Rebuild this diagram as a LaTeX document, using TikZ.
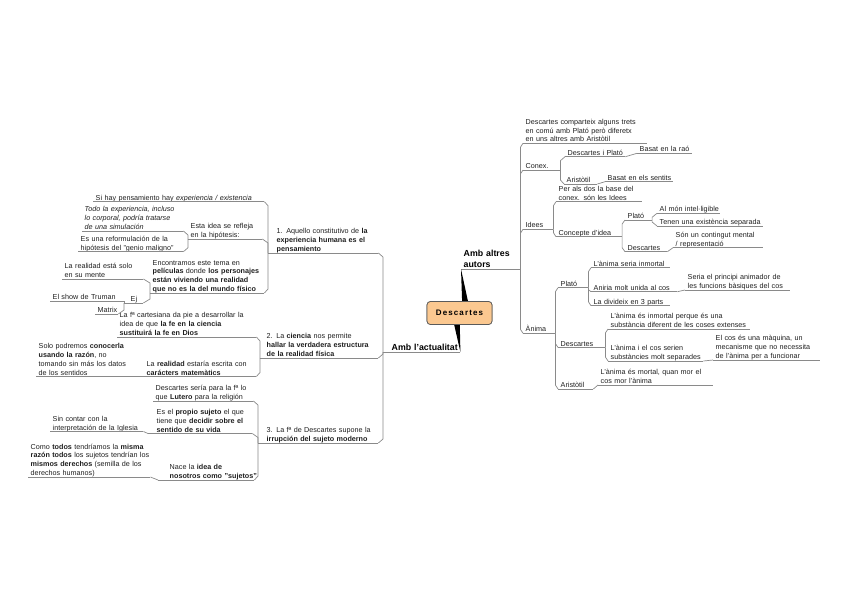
\documentclass[tikz,border=0pt]{standalone}
\usepackage{fontspec}
\setmainfont{Liberation Sans}
\usetikzlibrary{calc}
\definecolor{ln}{HTML}{8A8A8A}
\definecolor{txt}{HTML}{202020}
\definecolor{cfill}{HTML}{FBC890}
\definecolor{cdraw}{HTML}{5A5A5A}
\newcommand\tsz{\fontsize{7.2}{8.8}\selectfont}
\newcommand\tl[1]{\raisebox{-2pt}[\height][\depth]{\begin{tabular}[b]{@{}l@{}}#1\end{tabular}}}
% right-side link: bracket at parent's underline end
\newcommand\rk[3]{\draw[conn] (#1.south east) -- ($(#1.south east |- #2.south west)+(0,#3)$) -- (#2.south west);}
\newcommand\rst[2]{\draw[conn] (#1.south east) -- (#2.south west);}
% left-side link: bracket at parent's underline start
\newcommand\lk[3]{\draw[conn] (#1.south west) -- ($(#1.south west |- #2.south east)+(0,#3)$) -- (#2.south east);}
\newcommand\lst[2]{\draw[conn] (#1.south west) -- (#2.south east);}
\begin{document}
\begin{tikzpicture}[x=1pt,y=-1pt,
  topic/.style={anchor=south west, inner xsep=2.5pt, inner ysep=0.6pt, align=left, font=\tsz, text=txt},
  uline/.style={draw=ln, line width=0.7pt},
  conn/.style={draw=ln, line width=0.7pt},
  branch/.style={topic, font=\fontsize{8.8}{10.6}\selectfont\bfseries, text=black},
  central/.style={draw=cdraw, line width=0.7pt, fill=cfill, rounded corners=3.5pt, minimum width=65pt, minimum height=23pt, inner sep=0pt, font=\fontsize{8}{9}\selectfont\bfseries\addfontfeatures{LetterSpace=14}, text=black}]
\useasboundingbox[fill=white] (0,0) rectangle (848,599);

% ---------- central ----------
\node[central] (C) at (459.5,313) {Descartes};

% ---------- right branch ----------
\node[branch, text width=54pt] (R0) at (461,269) {\tl{Amb altres\\autors}};
\node[topic, text width=119pt] (R1) at (523,143.3) {\tl{Descartes comparteix alguns trets\\en comú amb Plató però diferetx\\en uns altres amb Aristòtil}};
\node[topic, text width=32pt] (R2) at (523,170) {\tl{Conex.}};
\node[topic, text width=55pt] (R2a) at (565,156.7) {\tl{Descartes i Plató}};
\node[topic, text width=50pt] (R2a1) at (637,153.3) {\tl{Basat en la raó}};
\node[topic, text width=28pt] (R2b) at (564,184) {\tl{Aristòtil}};
\node[topic, text width=63pt] (R2b1) at (605,181.7) {\tl{Basat en els sentits}};
\node[topic, text width=25pt] (R3) at (523,229.3) {\tl{Idees}};
\node[topic, text width=81pt] (R3a) at (556,201.7) {\tl{Per als dos la base del\\conex. són les Idees}};
\node[topic, text width=60.7pt] (R3b) at (556,236.7) {\tl{Concepte d'idea}};
\node[topic, text width=21.7pt] (R3b1) at (625,220) {\tl{Plató}};
\node[topic, text width=58pt] (R3b1a) at (657,213.3) {\tl{Al món intel·ligible}};
\node[topic, text width=101pt] (R3b1b) at (657,226) {\tl{Tenen una existència separada}};
\node[topic, text width=37pt] (R3b2) at (625,251.7) {\tl{Descartes}};
\node[topic, text width=85pt] (R3b2a) at (673,247.7) {\tl{Són un contingut mental\\/ representació}};
\node[topic, text width=27pt] (R4) at (523,333.3) {\tl{Ànima}};
\node[topic, text width=25pt] (R4a) at (558,287.7) {\tl{Plató}};
\node[topic, text width=74pt] (R4a1) at (591,267.7) {\tl{L'ànima seria inmortal}};
\node[topic, text width=81pt] (R4a2) at (591,291.7) {\tl{Aniria molt unida al cos}};
\node[topic, text width=100pt] (R4a2a) at (685,290) {\tl{Seria el principi animador de\\les funcions bàsiques del cos}};
\node[topic, text width=74pt] (R4a3) at (591,305.7) {\tl{La divideix en 3 parts}};
\node[topic, text width=42pt] (R4b) at (558,347.5) {\tl{Descartes}};
\node[topic, text width=137pt] (R4b1) at (608,329) {\tl{L'ànima és inmortal perque és una\\substància diferent de les coses extenses}};
\node[topic, text width=90pt] (R4b2) at (608,361) {\tl{L'ànima i el cos serien\\substàncies molt separades}};
\node[topic, text width=102pt] (R4b2a) at (713,360) {\tl{El cos és una màquina, un\\mecanisme que no necessita\\de l'ànima per a funcionar}};
\node[topic, text width=30pt] (R4c) at (558,389) {\tl{Aristòtil}};
\node[topic, text width=110pt] (R4c1) at (598,385) {\tl{L'ànima és mortal, quan mor el\\cos mor l'ànima}};

% ---------- left branch ----------
\node[branch, text width=72pt] (L0) at (383,352) {\hspace*{6pt}\tl{Amb l'actualitat}};
\node[topic, text width=105pt] (L1) at (268,253) {\hspace*{6pt}\tl{1. Aquello constitutivo de \textbf{la}\\\textbf{experiencia humana es el}\\\textbf{pensamiento}}};
\node[topic, text width=166pt] (L1a) at (93,201.7) {\tl{Si hay pensamiento hay \textit{experiencia / existencia}}};
\node[topic, text width=69pt] (L1b) at (188,239) {\tl{Esta idea se refleja\\en la hipótesis:}};
\node[topic, text width=96pt] (L1b1) at (82,231) {\tl{\textit{Todo la experiencia, incluso}\\\textit{lo corporal, podría tratarse}\\\textit{de una simulación}}};
\node[topic, text width=100pt] (L1b2) at (78,251.7) {\tl{Es una reformulación de la\\hipótesis del "genio maligno"}};
\node[topic, text width=109pt] (L1c) at (150,293) {\tl{Encontramos este tema en\\\textbf{películas} donde \textbf{los personajes}\\\textbf{están viviendo una realidad}\\\textbf{que no es la del mundo físico}}};
\node[topic, text width=76pt] (L1c1) at (62,279) {\tl{La realidad está solo\\en su mente}};
\node[topic, text width=14pt] (Ej) at (124,303) {\tl{\hspace*{4pt}Ej}};
\node[topic, text width=57pt] (Tru) at (50,301) {\tl{El show de Truman}};
\node[topic, text width=18pt] (Mat) at (95,314) {\tl{Matrix}};
\node[topic, text width=113pt] (L2) at (260,358) {\hspace*{4pt}\tl{2. La \textbf{ciencia} nos permite\\\textbf{hallar la verdadera estructura}\\\textbf{de la realidad física}}};
\node[topic, text width=134pt] (L2a) at (117,337) {\tl{La fª cartesiana da pie a desarrollar la\\idea de que \textbf{la fe en la ciencia}\\\textbf{sustituirá la fe en Dios}}};
\node[topic, text width=111pt] (L2b) at (140,376.5) {\hspace*{4pt}\tl{La \textbf{realidad} estaría escrita con\\\textbf{carácters matemàtics}}};
\node[topic, text width=95pt] (L2b1) at (36,376.5) {\tl{Solo podremos \textbf{conocerla}\\\textbf{usando la razón}, no\\tomando sin más los datos\\de los sentidos}};
\node[topic, text width=115pt] (L3) at (258,443) {\hspace*{6pt}\tl{3. La fª de Descartes supone la\\\textbf{irrupción del sujeto moderno}}};
\node[topic, text width=95pt] (L3a) at (153,401) {\tl{Descartes sería para la fª lo\\que \textbf{Lutero} para la religión}};
\node[topic, text width=99pt] (L3b) at (148,433.5) {\hspace*{6pt}\tl{Es el \textbf{propio sujeto} el que\\tiene que \textbf{decidir sobre el}\\\textbf{sentido de su vida}}};
\node[topic, text width=88pt] (L3b1) at (50,431.5) {\tl{Sin contar con la\\interpretación de la Iglesia}};
\node[topic, text width=91pt] (L3c) at (158,480) {\hspace*{9pt}\tl{Nace la \textbf{idea de}\\\textbf{nosotros como "sujetos"}}};
\node[topic, text width=117pt] (L3c1) at (28,477) {\tl{Como \textbf{todos} tendríamos la \textbf{misma}\\\textbf{razón todos} los sujetos tendrían los\\\textbf{mismos derechos} (semilla de los\\derechos humanos)}};

% ---------- underlines ----------
\foreach \n in {R1,R2,R2a,R2a1,R2b,R2b1,R3,R3a,R3b,R3b1,R3b1a,R3b1b,R3b2,R3b2a,R4,R4a,R4a1,R4a2,R4a2a,R4a3,R4b,R4b1,R4b2,R4b2a,R4c,R4c1,
  L1,L1a,L1b,L1b1,L1b2,L1c,L1c1,Ej,Tru,Mat,L2,L2a,L2b,L2b1,L3,L3a,L3b,L3b1,L3c,L3c1,R0,L0}
  \draw[uline] (\n.south west) -- (\n.south east);

% ---------- right connectors ----------
\rk{R0}{R1}{4}
\rk{R0}{R2}{4}
\rk{R0}{R3}{4}
\rk{R0}{R4}{-4}
\rk{R2}{R2a}{4}
\rk{R2}{R2b}{-4}
\rst{R2a}{R2a1}
\rst{R2b}{R2b1}
\rk{R3}{R3a}{4}
\rk{R3}{R3b}{-4}
\rk{R3b}{R3b1}{4}
\rk{R3b}{R3b2}{-4}
\rk{R3b1}{R3b1a}{4}
\rk{R3b1}{R3b1b}{-4}
\rst{R3b2}{R3b2a}
\rk{R4}{R4a}{4}
\rk{R4}{R4b}{-4}
\rk{R4}{R4c}{-4}
\rk{R4a}{R4a1}{4}
\rk{R4a}{R4a2}{-2}
\rk{R4a}{R4a3}{-4}
\rst{R4a2}{R4a2a}
\rk{R4b}{R4b1}{4}
\rk{R4b}{R4b2}{-4}
\rst{R4b2}{R4b2a}
\rst{R4c}{R4c1}

% ---------- left connectors ----------
\lk{L0}{L1}{4}
\lk{L0}{L2}{-4}
\lk{L0}{L3}{-4}
\lk{L1}{L1a}{4}
\lk{L1}{L1b}{4}
\lk{L1}{L1c}{-4}
\lk{L1b}{L1b1}{4}
\lk{L1b}{L1b2}{-4}
\lk{L1c}{L1c1}{4}
\lk{L1c}{Ej}{-4}
\lk{Ej}{Tru}{0}
\lk{Ej}{Mat}{-4}
\lk{L2}{L2a}{4}
\lk{L2}{L2b}{-4}
\lst{L2b}{L2b1}
\lk{L3}{L3a}{4}
\lk{L3}{L3b}{4}
\lk{L3}{L3c}{-4}
\lst{L3b}{L3b1}
\lst{L3c}{L3c1}

% ---------- wedges from central topic ----------
\fill[black] ($(C.center)+(3,0)$) -- ($(C.center)+(11,0)$) -- (R0.south west) -- cycle;
\fill[black] ($(C.center)+(-8,0)$) -- ($(C.center)+(0,0)$) -- (L0.south east) -- cycle;
\node[central] at (C) {Descartes};
\end{tikzpicture}
\end{document}
